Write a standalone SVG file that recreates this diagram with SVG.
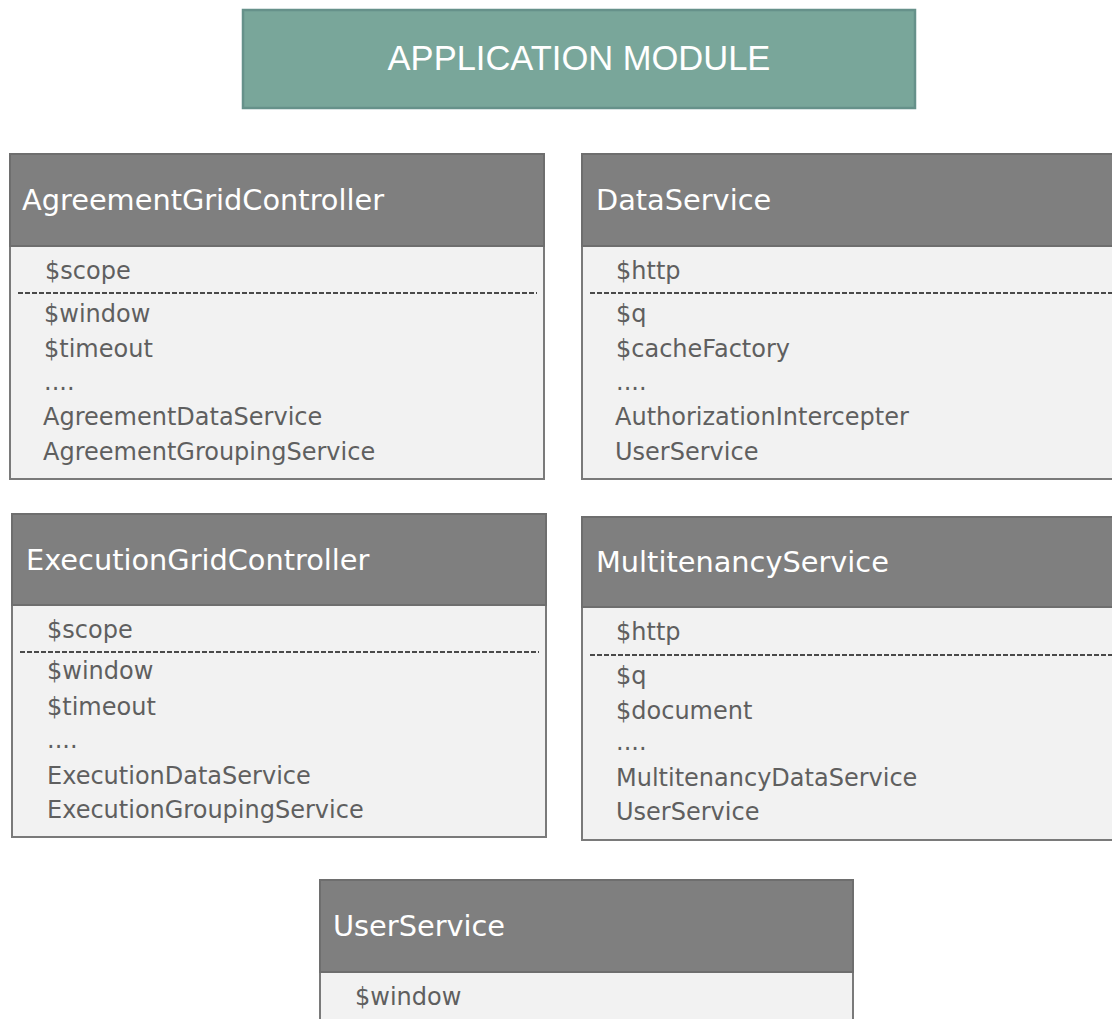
<svg xmlns="http://www.w3.org/2000/svg" width="1112" height="1019" viewBox="0 0 1112 1019">
<style>
.hdr{fill:#7f7f7f;stroke:#6e6e6e;stroke-width:2}
.bdy{fill:#f2f2f2;stroke:#7a7a7a;stroke-width:2}
.ttl{font-family:"DejaVu Sans",sans-serif;font-size:28.8px;fill:#ffffff}
.itm{font-family:"DejaVu Sans",sans-serif;font-size:24px;fill:#5f5f5f}
.sep{stroke:#4a4a4a;stroke-width:1.8;stroke-dasharray:5 2;fill:none}
</style>
<rect width="1112" height="1019" fill="#ffffff"/>
<g id="app-module">
<rect x="243" y="10" width="672" height="98" fill="#79a69a" stroke="#66918a" stroke-width="2.5"/>
<text x="579" y="70" text-anchor="middle" font-family="Liberation Sans, Arial, sans-serif" font-size="34.5" fill="#ffffff">APPLICATION MODULE</text>
</g>
<g id="agreement-grid-controller">
<rect class="bdy" x="10" y="246" width="534" height="233"/>
<rect class="hdr" x="10" y="154" width="534" height="92"/>
<text class="ttl" x="22" y="210">AgreementGridController</text>
<text class="itm" x="45" y="279">$scope</text>
<line class="sep" x1="18" y1="293" x2="537" y2="293"/>
<text class="itm" x="44" y="322">$window</text>
<text class="itm" x="44" y="357">$timeout</text>
<text class="itm" x="44" y="390">....</text>
<text class="itm" x="43" y="425">AgreementDataService</text>
<text class="itm" x="43" y="460">AgreementGroupingService</text>
</g>
<g id="data-service">
<rect class="bdy" x="582" y="246" width="540" height="233"/>
<rect class="hdr" x="582" y="154" width="540" height="92"/>
<text class="ttl" x="596" y="210">DataService</text>
<text class="itm" x="616" y="279">$http</text>
<line class="sep" x1="590" y1="293" x2="1112" y2="293"/>
<text class="itm" x="616" y="322">$q</text>
<text class="itm" x="616" y="357">$cacheFactory</text>
<text class="itm" x="616" y="390">....</text>
<text class="itm" x="615" y="425">AuthorizationIntercepter</text>
<text class="itm" x="615" y="460">UserService</text>
</g>
<g id="execution-grid-controller">
<rect class="bdy" x="12" y="605" width="534" height="232"/>
<rect class="hdr" x="12" y="514" width="534" height="91"/>
<text class="ttl" x="26" y="570">ExecutionGridController</text>
<text class="itm" x="47" y="638">$scope</text>
<line class="sep" x1="20" y1="652" x2="539" y2="652"/>
<text class="itm" x="47" y="679">$window</text>
<text class="itm" x="47" y="715">$timeout</text>
<text class="itm" x="47" y="748">....</text>
<text class="itm" x="47" y="784">ExecutionDataService</text>
<text class="itm" x="47" y="818">ExecutionGroupingService</text>
</g>
<g id="multitenancy-service">
<rect class="bdy" x="582" y="607" width="540" height="233"/>
<rect class="hdr" x="582" y="517" width="540" height="90"/>
<text class="ttl" x="596" y="572">MultitenancyService</text>
<text class="itm" x="616" y="640">$http</text>
<line class="sep" x1="590" y1="655" x2="1112" y2="655"/>
<text class="itm" x="616" y="684">$q</text>
<text class="itm" x="616" y="719">$document</text>
<text class="itm" x="616" y="750">....</text>
<text class="itm" x="616" y="786">MultitenancyDataService</text>
<text class="itm" x="616" y="820">UserService</text>
</g>
<g id="user-service">
<rect class="bdy" x="320" y="972" width="533" height="60"/>
<rect class="hdr" x="320" y="880" width="533" height="92"/>
<text class="ttl" x="333" y="936">UserService</text>
<text class="itm" x="355" y="1005">$window</text>
</g>
<g id="connectors"></g>
</svg>
